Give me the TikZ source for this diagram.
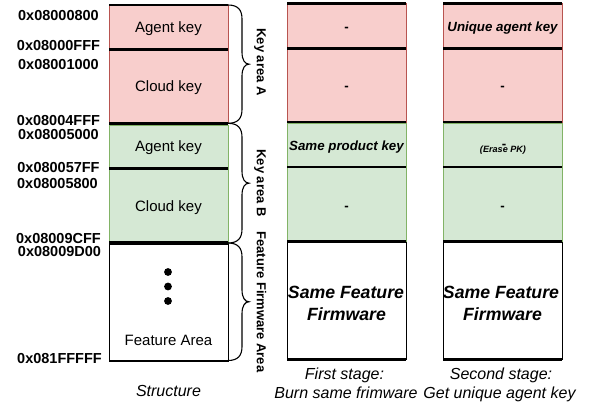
\documentclass[tikz,border=0pt]{standalone}
\usepackage{fontspec}
\setmainfont{Liberation Sans}
\definecolor{pinkf}{HTML}{F8CECC}
\definecolor{pinkd}{HTML}{B85450}
\definecolor{greenf}{HTML}{D5E8D4}
\definecolor{greend}{HTML}{82B366}
\begin{document}
\begin{tikzpicture}[x=1pt,y=-1pt,
  hex/.style={font=\fontsize{14.5}{16}\selectfont\bfseries, inner sep=0pt, text height=10.4pt, text depth=0pt},
  cellt/.style={font=\fontsize{15}{17}\selectfont, inner sep=0pt, text height=10.7pt, text depth=0pt},
  dashl/.style={font=\fontsize{13.3}{15}\selectfont\bfseries, inner sep=0pt, text height=9.5pt, text depth=0pt},
  bi/.style={font=\fontsize{13.3}{15}\selectfont\bfseries\itshape, inner sep=0pt, text height=9.5pt, text depth=0pt},
  small/.style={font=\fontsize{9.1}{10}\selectfont\bfseries\itshape, inner sep=0pt, text height=6.5pt, text depth=0pt},
  big/.style={font=\fontsize{17.7}{20}\selectfont\bfseries\itshape, inner sep=0pt, text height=12.7pt, text depth=0pt},
  capt/.style={font=\fontsize{16}{18}\selectfont\itshape, inner sep=0pt, text height=11.5pt, text depth=0pt},
  brl/.style={font=\fontsize{13}{15}\selectfont\bfseries, inner sep=0pt, text height=9.3pt, text depth=0pt, rotate=-90},
  sep/.style={line width=2.6pt, black},
  bracel/.style={line width=1.1pt, black}
]
\useasboundingbox (0,0) rectangle (597,407);

% columns
\foreach \xl/\dy in {109/0, 287/-1.3, 443/-1.3}{
  \pgfmathsetmacro{\xr}{\xl+119}
  \filldraw[fill=pinkf, draw=pinkd, line width=0.9pt] (\xl,{5+\dy}) rectangle (\xr,{123.3+\dy});
  \filldraw[fill=greenf, draw=greend, line width=0.9pt] (\xl,{125+\dy}) rectangle (\xr,{244+\dy});
  \draw[black, line width=0.8pt] (\xl,{244+\dy}) rectangle (\xr,{361+\dy});
  \foreach \yy in {5,49.5,123.3,168.3,242.5,361}{
    \draw[sep] (\xl,{\yy+\dy}) -- (\xr,{\yy+\dy});
  }
}

% hex labels
\node[hex] (h1) at (58.5,15.3) {0x08000800};
\node[hex] (h2) at (58.5,45.7) {0x08000FFF};
\node[hex] (h3) at (58.5,64.7) {0x08001000};
\node[hex] (h4) at (58.5,120) {0x08004FFF};
\node[hex] (h5) at (58.5,134.7) {0x08005000};
\node[hex] (h6) at (58.5,167) {0x080057FF};
\node[hex] (h7) at (57.5,183.5) {0x08005800};
\node[hex] (h8) at (58.5,238.7) {0x08009CFF};
\node[hex] (h9) at (59.5,251) {0x08009D00};
\node[hex] (h10) at (59.5,358.7) {0x081FFFFF};

% structure column texts
\node[cellt] (s1) at (168.5,27.5) {Agent key};
\node[cellt] (s2) at (168.5,86.5) {Cloud key};
\node[cellt] (s3) at (168.5,146.5) {Agent key};
\node[cellt] (s4) at (168.5,206) {Cloud key};
\fill (168,272) circle (3.9pt);
\fill (168,286.5) circle (3.9pt);
\fill (168,301) circle (3.9pt);
\node[cellt] (s5) at (168.5,340) {Feature Area};

% first stage texts
\node[dashl] (m1) at (346.5,26.5) {-};
\node[dashl] (m2) at (346.5,86) {-};
\node[bi] (m3) at (346.5,145.5) {Same product key};
\node[dashl] (m4) at (346.5,206) {-};
\node[big] (m5) at (346,292.5) {Same Feature};
\node[big] (m6) at (346.5,314.5) {Firmware};

% second stage texts
\node[bi] (r1) at (502.5,26.5) {Unique agent key};
\node[dashl] (r2) at (502.5,86) {-};
\node[dashl] (r3) at (504,143.5) {-};
\node[small] (r4) at (503,149.7) {(Erase PK)};
\node[dashl] (r5) at (502.5,206) {-};
\node[big] (r6) at (501,292.5) {Same Feature};
\node[big] (r7) at (502.5,314.5) {Firmware};

% braces
\foreach \ya/\yb in {5/123.3, 123.3/243, 243/360.5}{
  \pgfmathsetmacro{\ym}{(\ya+\yb)/2}
  \draw[bracel] (228,\ya) .. controls (238,\ya) and (242,{\ya+5}) .. (242,{\ya+14})
    -- (242,{\ym-12}) .. controls (242,{\ym-4}) and (245,\ym) .. (249,\ym)
    .. controls (245,\ym) and (242,{\ym+4}) .. (242,{\ym+12})
    -- (242,{\yb-14}) .. controls (242,{\yb-5}) and (238,\yb) .. (228,\yb);
}
\node[brl] (b1) at (261.5,62) {Key area A};
\node[brl] (b2) at (261.5,183) {Key area B};
\node[brl] (b3) at (261.5,302) {Feature Firmware Area};

% captions
\node[capt] (c1) at (168.5,390.5) {Structure};
\node[capt] (c2) at (344.5,374) {First stage:};
\node[capt] (c3) at (346,392.3) {Burn same frimware};
\node[capt] (c4) at (501,374) {Second stage:};
\node[capt] (c5) at (499.5,392.3) {Get unique agent key};
\end{tikzpicture}
\end{document}
